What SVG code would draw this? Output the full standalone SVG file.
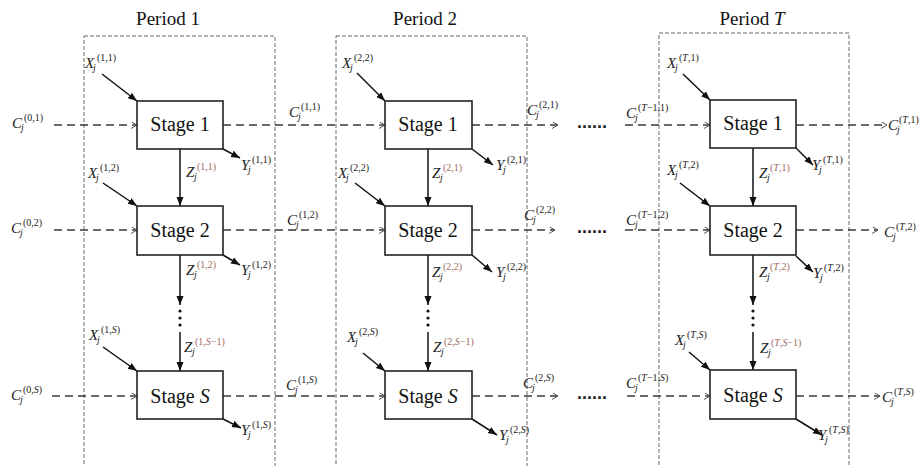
<svg xmlns="http://www.w3.org/2000/svg" width="919" height="466" viewBox="0 0 919 466" font-family="'Liberation Serif', 'Times New Roman', 'DejaVu Serif', serif">
<defs>
<marker id="open" markerUnits="userSpaceOnUse" markerWidth="10" markerHeight="10" refX="6" refY="3.5" orient="auto"><path d="M0,0 L6,3.5 L0,7" fill="none" stroke="#555" stroke-width="1"/></marker>
<marker id="solid" markerUnits="userSpaceOnUse" markerWidth="12" markerHeight="10" refX="9" refY="3.5" orient="auto"><path d="M0,0 L9,3.5 L0,7 Z" fill="#111"/></marker>
<style>
.pbox{fill:none;stroke:#666;stroke-width:1;stroke-dasharray:4 2}
.stage{fill:#fff;stroke:#222;stroke-width:1.6}
.st{font-family:'Liberation Serif','Times New Roman',serif;font-size:20px;fill:#111;text-anchor:middle}
.ttl{font-family:'Liberation Serif','Times New Roman',serif;font-size:19px;fill:#111;text-anchor:middle}
.dl{fill:none;stroke:#3a3a3a;stroke-width:1.6;stroke-dasharray:8 5;marker-end:url(#open)}
.sl{fill:none;stroke:#111;stroke-width:1.5;marker-end:url(#solid)}
.m{font-family:'Liberation Serif','Times New Roman',serif;font-style:italic;font-size:15px;fill:#222}
.sb{font-size:10px}
.sp{font-size:10px;font-style:normal}
.i{font-style:italic}
.zc{fill:#a06a60}
.dots{font-family:'Liberation Sans',Arial,sans-serif;font-weight:bold;font-size:18px;fill:#222}
</style>
</defs>
<rect width="919" height="466" fill="#fff"/>

<g id="period1">
<rect class="pbox" x="84" y="36" width="191" height="440"/>
<text class="ttl" x="168" y="25">Period 1</text>
</g>
<g id="period2">
<rect class="pbox" x="336" y="36" width="191" height="440"/>
<text class="ttl" x="425" y="25">Period 2</text>
</g>
<g id="periodT">
<rect class="pbox" x="659" y="33" width="190" height="443"/>
<text class="ttl" x="752" y="25">Period <tspan class="i">T</tspan></text>
</g>

<g id="connectors">
<path class="dl" d="M54,125 H137"/><path class="dl" d="M223,125 H385"/><path class="dl" d="M472,125 H558"/><path class="dl" d="M625,125 H710"/><path class="dl" d="M796,125 H887"/>
<path class="dl" d="M54,230 H137"/><path class="dl" d="M223,230 H385"/><path class="dl" d="M472,230 H555"/><path class="dl" d="M625,230 H710"/><path class="dl" d="M796,230 H878"/>
<path class="dl" d="M52,396 H137"/><path class="dl" d="M223,396 H385"/><path class="dl" d="M472,396 H558"/><path class="dl" d="M627,396 H710"/><path class="dl" d="M796,396 H880"/>

<path class="sl" d="M180,149 V206"/><path class="sl" d="M180,255 V305"/><path class="sl" d="M180,332 V371"/>
<path class="sl" d="M428,149 V206"/><path class="sl" d="M428,255 V305"/><path class="sl" d="M428,332 V371"/>
<path class="sl" d="M753,148 V206"/><path class="sl" d="M753,255 V305"/><path class="sl" d="M753,332 V370"/>

<path class="sl" d="M102,74 L137,101"/><path class="sl" d="M103,183 L137,206"/><path class="sl" d="M103,347 L137,371"/>
<path class="sl" d="M357,73 L385,101"/><path class="sl" d="M355,183 L385,206"/><path class="sl" d="M363,353 L385,371"/>
<path class="sl" d="M683,74 L710,100"/><path class="sl" d="M680,183 L710,206"/><path class="sl" d="M689,352 L710,370"/>

<path class="sl" d="M223,149 L240,158"/><path class="sl" d="M223,255 L240,265"/><path class="sl" d="M223,419 L241,428"/>
<path class="sl" d="M472,149 L493,165"/><path class="sl" d="M472,255 L492,272"/><path class="sl" d="M472,419 L497,435"/>
<path class="sl" d="M796,148 L813,165"/><path class="sl" d="M796,256 L813,272"/><path class="sl" d="M796,419 L822,435"/>

<g fill="#111">
<circle cx="180" cy="311" r="1.6"/><circle cx="180" cy="318" r="1.6"/><circle cx="180" cy="325" r="1.6"/>
<circle cx="428" cy="311" r="1.6"/><circle cx="428" cy="318" r="1.6"/><circle cx="428" cy="325" r="1.6"/>
<circle cx="753" cy="311" r="1.6"/><circle cx="753" cy="318" r="1.6"/><circle cx="753" cy="325" r="1.6"/>
</g>
</g>

<g id="stage-1-1"><rect class="stage" x="137" y="101" width="86" height="48"/><text class="st" x="180" y="131">Stage 1</text></g>
<g id="stage-1-2"><rect class="stage" x="137" y="206" width="86" height="49"/><text class="st" x="180" y="237">Stage 2</text></g>
<g id="stage-1-S"><rect class="stage" x="137" y="371" width="86" height="48"/><text class="st" x="180" y="403">Stage <tspan class="i">S</tspan></text></g>
<g id="stage-2-1"><rect class="stage" x="385" y="101" width="87" height="48"/><text class="st" x="428" y="131">Stage 1</text></g>
<g id="stage-2-2"><rect class="stage" x="385" y="206" width="87" height="49"/><text class="st" x="428" y="237">Stage 2</text></g>
<g id="stage-2-S"><rect class="stage" x="385" y="371" width="87" height="48"/><text class="st" x="428" y="403">Stage <tspan class="i">S</tspan></text></g>
<g id="stage-T-1"><rect class="stage" x="710" y="100" width="86" height="48"/><text class="st" x="753" y="130">Stage 1</text></g>
<g id="stage-T-2"><rect class="stage" x="710" y="206" width="86" height="49"/><text class="st" x="753" y="237">Stage 2</text></g>
<g id="stage-T-S"><rect class="stage" x="710" y="370" width="86" height="49"/><text class="st" x="753" y="402">Stage <tspan class="i">S</tspan></text></g>

<g id="ellipses">
<text class="dots" x="577" y="128">......</text>
<text class="dots" x="577" y="233">......</text>
<text class="dots" x="577" y="399">......</text>
</g>

<g id="labels" class="m">
<text x="12" y="128">C<tspan class="sb" x="21" dy="3">j</tspan><tspan class="sp" x="24" dy="-10">(0,1)</tspan></text>
<text x="11" y="233">C<tspan class="sb" x="20" dy="3">j</tspan><tspan class="sp" x="23" dy="-10">(0,2)</tspan></text>
<text x="11" y="400">C<tspan class="sb" x="20" dy="3">j</tspan><tspan class="sp" x="23" dy="-10">(0,<tspan class="i">S</tspan>)</tspan></text>

<text x="289" y="117">C<tspan class="sb" x="298" dy="3">j</tspan><tspan class="sp" x="301" dy="-10">(1,1)</tspan></text>
<text x="287" y="225">C<tspan class="sb" x="296" dy="3">j</tspan><tspan class="sp" x="299" dy="-10">(1,2)</tspan></text>
<text x="286" y="390">C<tspan class="sb" x="295" dy="3">j</tspan><tspan class="sp" x="298" dy="-10">(1,<tspan class="i">S</tspan>)</tspan></text>

<text x="527" y="115">C<tspan class="sb" x="536" dy="3">j</tspan><tspan class="sp" x="539" dy="-10">(2,1)</tspan></text>
<text x="524" y="220">C<tspan class="sb" x="533" dy="3">j</tspan><tspan class="sp" x="536" dy="-10">(2,2)</tspan></text>
<text x="523" y="388">C<tspan class="sb" x="532" dy="3">j</tspan><tspan class="sp" x="535" dy="-10">(2,<tspan class="i">S</tspan>)</tspan></text>

<text x="626" y="118">C<tspan class="sb" x="635" dy="3">j</tspan><tspan class="sp" x="638" dy="-10">(<tspan class="i">T</tspan>−1,1)</tspan></text>
<text x="626" y="225">C<tspan class="sb" x="635" dy="3">j</tspan><tspan class="sp" x="638" dy="-10">(<tspan class="i">T</tspan>−1,2)</tspan></text>
<text x="626" y="388">C<tspan class="sb" x="635" dy="3">j</tspan><tspan class="sp" x="638" dy="-10">(<tspan class="i">T</tspan>−1,<tspan class="i">S</tspan>)</tspan></text>

<text x="888" y="130">C<tspan class="sb" x="897" dy="3">j</tspan><tspan class="sp" x="899" dy="-10">(<tspan class="i">T</tspan>,1)</tspan></text>
<text x="884" y="237">C<tspan class="sb" x="893" dy="3">j</tspan><tspan class="sp" x="896" dy="-10">(<tspan class="i">T</tspan>,2)</tspan></text>
<text x="882" y="402">C<tspan class="sb" x="891" dy="3">j</tspan><tspan class="sp" x="894" dy="-10">(<tspan class="i">T</tspan>,<tspan class="i">S</tspan>)</tspan></text>

<text x="85" y="68">X<tspan class="sb" x="93" dy="3">j</tspan><tspan class="sp" x="97" dy="-10">(1,1)</tspan></text>
<text x="88" y="178">X<tspan class="sb" x="96" dy="3">j</tspan><tspan class="sp" x="100" dy="-10">(1,2)</tspan></text>
<text x="89" y="340">X<tspan class="sb" x="97" dy="3">j</tspan><tspan class="sp" x="101" dy="-10">(1,<tspan class="i">S</tspan>)</tspan></text>
<text x="342" y="68">X<tspan class="sb" x="350" dy="3">j</tspan><tspan class="sp" x="354" dy="-10">(2,2)</tspan></text>
<text x="338" y="178">X<tspan class="sb" x="346" dy="3">j</tspan><tspan class="sp" x="350" dy="-10">(2,2)</tspan></text>
<text x="347" y="342">X<tspan class="sb" x="355" dy="3">j</tspan><tspan class="sp" x="359" dy="-10">(2,<tspan class="i">S</tspan>)</tspan></text>
<text x="667" y="68">X<tspan class="sb" x="675" dy="3">j</tspan><tspan class="sp" x="679" dy="-10">(<tspan class="i">T</tspan>,1)</tspan></text>
<text x="667" y="175">X<tspan class="sb" x="675" dy="3">j</tspan><tspan class="sp" x="679" dy="-10">(<tspan class="i">T</tspan>,2)</tspan></text>
<text x="675" y="345">X<tspan class="sb" x="683" dy="3">j</tspan><tspan class="sp" x="687" dy="-10">(<tspan class="i">T</tspan>,<tspan class="i">S</tspan>)</tspan></text>

<text x="241" y="170">Y<tspan class="sb" x="248" dy="3">j</tspan><tspan class="sp" x="252" dy="-10">(1,1)</tspan></text>
<text x="241" y="275">Y<tspan class="sb" x="248" dy="3">j</tspan><tspan class="sp" x="252" dy="-10">(1,2)</tspan></text>
<text x="241" y="435">Y<tspan class="sb" x="248" dy="3">j</tspan><tspan class="sp" x="252" dy="-10">(1,<tspan class="i">S</tspan>)</tspan></text>
<text x="496" y="170">Y<tspan class="sb" x="503" dy="3">j</tspan><tspan class="sp" x="507" dy="-10">(2,1)</tspan></text>
<text x="496" y="277">Y<tspan class="sb" x="503" dy="3">j</tspan><tspan class="sp" x="507" dy="-10">(2,2)</tspan></text>
<text x="499" y="440">Y<tspan class="sb" x="506" dy="3">j</tspan><tspan class="sp" x="510" dy="-10">(2,<tspan class="i">S</tspan>)</tspan></text>
<text x="812" y="170">Y<tspan class="sb" x="819" dy="3">j</tspan><tspan class="sp" x="823" dy="-10">(<tspan class="i">T</tspan>,1)</tspan></text>
<text x="813" y="278">Y<tspan class="sb" x="820" dy="3">j</tspan><tspan class="sp" x="824" dy="-10">(<tspan class="i">T</tspan>,2)</tspan></text>
<text x="818" y="440">Y<tspan class="sb" x="825" dy="3">j</tspan><tspan class="sp" x="829" dy="-10">(<tspan class="i">T</tspan>,<tspan class="i">S</tspan>)</tspan></text>

<text x="186" y="177">Z<tspan class="sb" x="194" dy="3">j</tspan><tspan class="sp zc" x="197" dy="-10">(1,1)</tspan></text>
<text x="186" y="275">Z<tspan class="sb" x="194" dy="3">j</tspan><tspan class="sp zc" x="197" dy="-10">(1,2)</tspan></text>
<text x="184" y="352">Z<tspan class="sb" x="192" dy="3">j</tspan><tspan class="sp zc" x="195" dy="-10">(1,<tspan class="i">S</tspan>−1)</tspan></text>
<text x="432" y="178">Z<tspan class="sb" x="440" dy="3">j</tspan><tspan class="sp zc" x="443" dy="-10">(2,1)</tspan></text>
<text x="432" y="277">Z<tspan class="sb" x="440" dy="3">j</tspan><tspan class="sp zc" x="443" dy="-10">(2,2)</tspan></text>
<text x="433" y="352">Z<tspan class="sb" x="441" dy="3">j</tspan><tspan class="sp zc" x="444" dy="-10">(2,<tspan class="i">S</tspan>−1)</tspan></text>
<text x="759" y="178">Z<tspan class="sb" x="767" dy="3">j</tspan><tspan class="sp zc" x="770" dy="-10">(<tspan class="i">T</tspan>,1)</tspan></text>
<text x="759" y="277">Z<tspan class="sb" x="767" dy="3">j</tspan><tspan class="sp zc" x="770" dy="-10">(<tspan class="i">T</tspan>,2)</tspan></text>
<text x="760" y="353">Z<tspan class="sb" x="768" dy="3">j</tspan><tspan class="sp zc" x="771" dy="-10">(<tspan class="i">T</tspan>,<tspan class="i">S</tspan>−1)</tspan></text>
</g>
</svg>
